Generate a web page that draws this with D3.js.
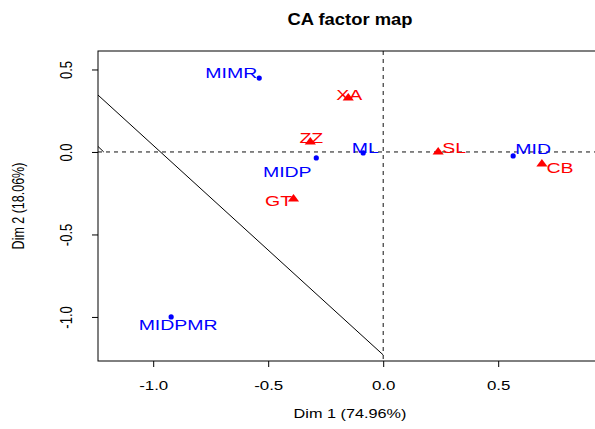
<!DOCTYPE html>
<html>
<head>
<meta charset="utf-8">
<script src="https://cdn.jsdelivr.net/npm/d3@7"></script>
<style>
  body { margin: 0; background: #fff; }
  text { font-family: "Liberation Sans", Arial, sans-serif; }
</style>
</head>
<body>
<div id="chart"></div>
<script>
// row points (blue)
let rowNames = ["MIMR", "MIDP", "ML", "MID", "MIDPMR"];
let rowDim1 = [-0.539, -0.291, -0.087, 0.565, -0.922];
let rowDim2 = [0.448, -0.036, -0.006, -0.024, -1.0];

// column points (red)
let colNames = ["XA", "ZZ", "GT", "SL", "CB"];
let colDim1 = [-0.152, -0.317, -0.39, 0.239, 0.69];
let colDim2 = [0.327, 0.06, -0.285, 0.0, -0.073];

let xTicks = [-1.0, -0.5, 0.0, 0.5];
let yTicks = [-1.0, -0.5, 0.0, 0.5];

// label offsets in px (like autoLab placement)
let rowLabelOff = [[-28, -5], [-29, 14], [2, -5], [20, -7], [7, 8]];
let colLabelOff = [[1, -3], [1, -4], [-15, 2], [16, -4], [18, 4]];

let w = 595, h = 429;
let pLeft = 98, pRight = 604, pTop = 51, pBottom = 361;
let stretch = 1.3;

let svg = d3.select("#chart").append("svg")
    .attr("width", w)
    .attr("height", h);

let x = d3.scaleLinear().domain([-1.24, 0.92]).range([pLeft, pLeft + (0.92 + 1.24) * 230]);
let y = d3.scaleLinear().domain([-1.267, 0.612]).range([pBottom, pTop]);

svg.append("clipPath").attr("id", "clip")
    .append("rect").attr("x", pLeft).attr("y", pTop).attr("width", pRight - pLeft).attr("height", pBottom - pTop);

// title
svg.append("text")
    .attr("transform", "translate(350,25) scale(1.15,1)")
    .attr("text-anchor", "middle")
    .attr("font-weight", "bold")
    .attr("font-size", 16)
    .text("CA factor map");

function fixMinus(sel) {
    sel.each(function () {
        let t = d3.select(this);
        t.text(t.text().replace("\u2212", "-"));
    });
}

// axes
let xAxis = svg.append("g").attr("transform", `translate(0,${pBottom})`)
    .call(d3.axisBottom(x).tickValues(xTicks).tickSize(6).tickFormat(d3.format(".1f")));
xAxis.select(".domain").remove();
xAxis.selectAll(".tick text")
    .attr("font-size", 13)
    .attr("font-family", "Liberation Sans, Arial, sans-serif")
    .attr("dy", null).attr("y", 0).attr("x", 0)
    .attr("transform", `translate(0,29) scale(${stretch},1)`)
    .call(fixMinus);

let yAxis = svg.append("g").attr("transform", `translate(${pLeft},0)`)
    .call(d3.axisLeft(y).tickValues(yTicks).tickSize(6).tickFormat(d3.format(".1f")));
yAxis.select(".domain").remove();
yAxis.selectAll(".tick text")
    .attr("font-size", 13)
    .attr("font-family", "Liberation Sans, Arial, sans-serif")
    .attr("x", 0).attr("dy", null).attr("y", 0)
    .attr("text-anchor", "middle")
    .attr("transform", `translate(-26,0) scale(${stretch},1) rotate(-90)`)
    .call(fixMinus);

// axis titles
svg.append("text")
    .attr("transform", `translate(350,418) scale(${stretch},1)`)
    .attr("text-anchor", "middle")
    .attr("font-size", 12.5)
    .text("Dim 1 (74.96%)");
svg.append("text")
    .attr("transform", `translate(24,${(pTop + pBottom) / 2}) scale(${stretch},1) rotate(-90)`)
    .attr("text-anchor", "middle")
    .attr("font-size", 12.5)
    .text("Dim 2 (18.06%)");

let plot = svg.append("g").attr("clip-path", "url(#clip)");

// dashed zero lines
plot.append("line")
    .attr("x1", pLeft).attr("x2", pRight)
    .attr("y1", y(0)).attr("y2", y(0))
    .attr("stroke", "#111").attr("stroke-dasharray", "4,4");
plot.append("line")
    .attr("x1", x(0)).attr("x2", x(0))
    .attr("y1", pTop).attr("y2", pBottom)
    .attr("stroke", "#111").attr("stroke-dasharray", "4,4");

// solid diagonal lines
plot.append("line")
    .attr("x1", x(-1.24)).attr("y1", y(0.345))
    .attr("x2", x(0)).attr("y2", y(-1.23))
    .attr("stroke", "black").attr("stroke-width", 1);
plot.append("line")
    .attr("x1", x(-1.245)).attr("y1", y(0.04))
    .attr("x2", x(-1.215)).attr("y2", y(0.0))
    .attr("stroke", "black").attr("stroke-width", 1);

// row points
rowNames.forEach((name, i) => {
    let px = x(rowDim1[i]), py = y(rowDim2[i]);
    plot.append("circle")
        .attr("cx", px).attr("cy", py).attr("r", 2.6)
        .attr("fill", "#0000ff");
    plot.append("text")
        .attr("transform", `translate(${px + rowLabelOff[i][0]},${py + rowLabelOff[i][1]}) scale(${stretch},1)`)
        .attr("text-anchor", "middle")
        .attr("dominant-baseline", "central")
        .attr("font-size", 15)
        .attr("fill", "#0000ff")
        .text(name);
});

// column points
let tri = d3.symbol().type(d3.symbolTriangle).size(32);
colNames.forEach((name, i) => {
    let px = x(colDim1[i]), py = y(colDim2[i]);
    plot.append("path")
        .attr("d", tri)
        .attr("transform", `translate(${px},${py}) scale(1.3,1)`)
        .attr("fill", "#ff0000");
    plot.append("text")
        .attr("transform", `translate(${px + colLabelOff[i][0]},${py + colLabelOff[i][1]}) scale(${stretch},1)`)
        .attr("text-anchor", "middle")
        .attr("dominant-baseline", "central")
        .attr("font-size", 15)
        .attr("fill", "#ff0000")
        .text(name);
});

// box
svg.append("rect")
    .attr("x", pLeft).attr("y", pTop)
    .attr("width", pRight - pLeft).attr("height", pBottom - pTop)
    .attr("fill", "none").attr("stroke", "black").attr("stroke-width", 1);
</script>
</body>
</html>
